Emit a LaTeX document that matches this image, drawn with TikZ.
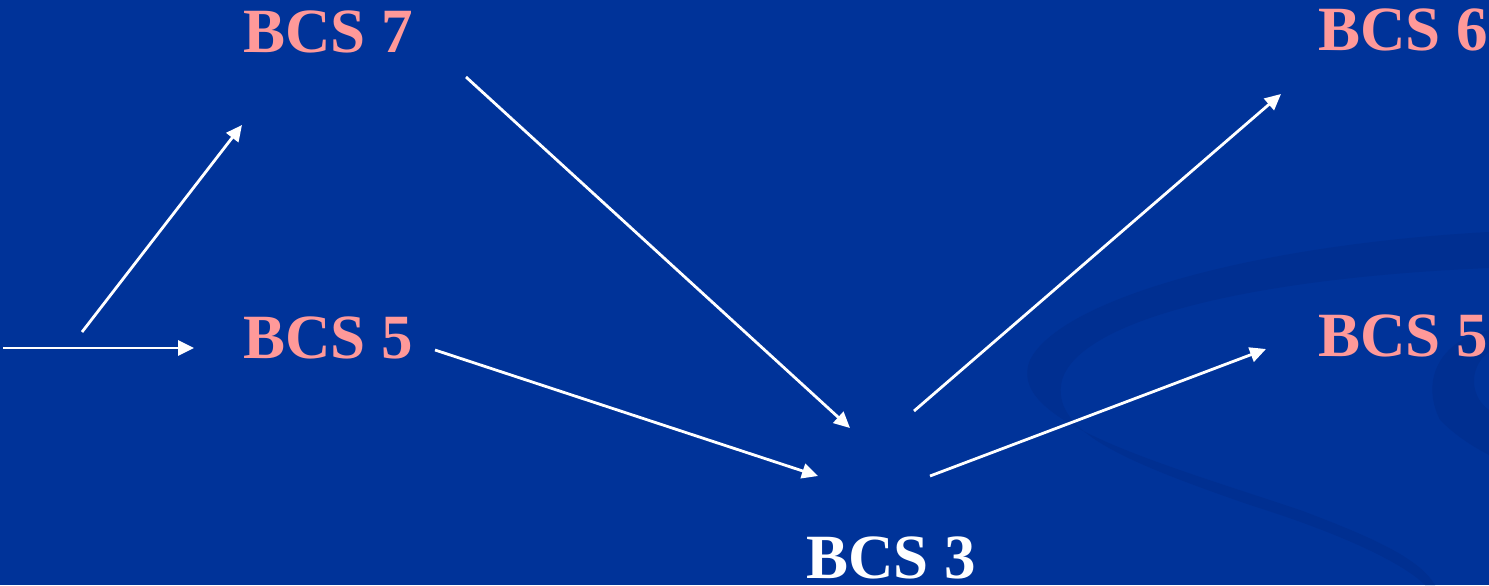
\documentclass[tikz,border=0pt]{standalone}
\usepackage{fontspec}
\setmainfont{Liberation Serif}
\usetikzlibrary{arrows.meta}
\definecolor{bg}{RGB}{0,51,153}
\definecolor{band}{RGB}{0,47,145}
\definecolor{pinktxt}{RGB}{255,153,153}
\tikzset{
  lbl/.style={anchor=base west, inner sep=0pt, font=\fontsize{31.5}{38}\selectfont\bfseries},
  arr/.style={draw=white, line width=1.4pt, -{Triangle[length=8pt,width=7.5pt]}}
}
\begin{document}
\begin{tikzpicture}[x=0.5pt,y=-0.5pt]
\fill[bg] (0,0) rectangle (1489,585);
\useasboundingbox (0,0) rectangle (1489,585);
% background swoosh
\fill[band] (1489,232) .. controls (1250,245) and (1060,300) .. (1030,360)
  .. controls (1005,420) and (1150,460) .. (1300,510)
  .. controls (1380,540) and (1420,560) .. (1435,585)
  -- (1425,585)
  .. controls (1400,560) and (1330,530) .. (1250,505)
  .. controls (1120,460) and (1050,430) .. (1062,380)
  .. controls (1080,320) and (1250,278) .. (1489,268) -- cycle;
\fill[band] (1489,330) .. controls (1440,340) and (1420,380) .. (1440,420)
  .. controls (1460,440) and (1480,450) .. (1489,455) -- (1489,410)
  .. controls (1468,395) and (1470,365) .. (1489,352) -- cycle;
% labels
\node[lbl, text=pinktxt] (b7) at (243,52) {BCS 7};
\node[lbl, text=pinktxt] (b5l) at (243,358) {BCS 5};
\node[lbl, text=pinktxt] (b6) at (1318,50) {BCS 6};
\node[lbl, text=pinktxt] (b5r) at (1318,356) {BCS 5};
\node[lbl, text=white] (b3) at (806,578) {BCS 3};
% arrow endpoints
\coordinate (s1) at (3,348);   \coordinate (e1) at (194,348);
\coordinate (s2) at (82,332);  \coordinate (e2) at (242,125);
\coordinate (s3) at (466,77);  \coordinate (e3) at (850,428);
\coordinate (s4) at (435,350); \coordinate (e4) at (818,476);
\coordinate (s5) at (914,411); \coordinate (e5) at (1281,94);
\coordinate (s6) at (930,476); \coordinate (e6) at (1266,349);
\draw[arr] (s1) -- (e1);
\draw[arr] (s2) -- (e2);
\draw[arr] (s3) -- (e3);
\draw[arr] (s4) -- (e4);
\draw[arr] (s5) -- (e5);
\draw[arr] (s6) -- (e6);
\end{tikzpicture}
\end{document}
